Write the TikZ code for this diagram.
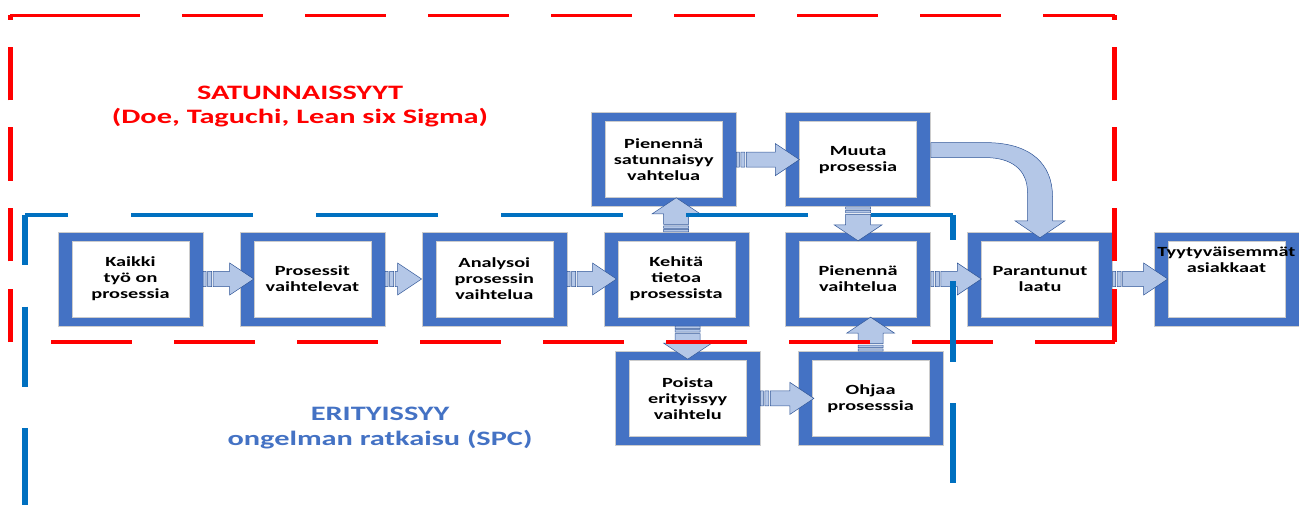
\documentclass[tikz,border=0pt]{standalone}
\usepackage{fontspec}
\newfontfamily\boxfont[FakeStretch=1.45]{Carlito}
\newfontfamily\groupfont[FakeStretch=1.48]{Carlito}
\usetikzlibrary{positioning,calc}

\definecolor{boxblue}{RGB}{68,114,196}
\definecolor{arrowfill}{RGB}{180,199,231}
\definecolor{arrowline}{RGB}{47,85,151}
\definecolor{spcblue}{RGB}{0,112,192}
\definecolor{doered}{RGB}{255,0,0}

% striped block arrow, horizontal: tail, tip
\newcommand{\harrow}[2]{%
  \path[blockarrow] let \p1=(#1), \p2=(#2) in
    (\x1,{\y1-7.5pt}) rectangle ({\x1+3pt},{\y1+7.5pt})
    ({\x1+4.5pt},{\y1-7.5pt}) rectangle ({\x1+8.5pt},{\y1+7.5pt})
    ({\x1+10pt},{\y1-7.5pt}) -- ({\x2-24pt},{\y1-7.5pt}) -- ({\x2-24pt},{\y1-16pt})
    -- (\x2,\y1) -- ({\x2-24pt},{\y1+16pt}) -- ({\x2-24pt},{\y1+7.5pt})
    -- ({\x1+10pt},{\y1+7.5pt}) -- cycle;}
% striped block arrow, vertical: tail, tip
\newcommand{\varrow}[2]{%
  \path[blockarrow] let \p1=(#1), \p2=(#2), \n1={sign(\y2-\y1)} in
    ({\x1-12.5pt},\y1) rectangle ({\x1+12.5pt},{\y1+(\n1)*2.3pt})
    ({\x1-12.5pt},{\y1+(\n1)*3.5pt}) rectangle ({\x1+12.5pt},{\y1+(\n1)*6pt})
    ({\x1-12.5pt},{\y1+(\n1)*7.5pt}) -- ({\x1-12.5pt},{\y2-(\n1)*16pt})
    -- ({\x1-24pt},{\y2-(\n1)*16pt}) -- (\x1,\y2) -- ({\x1+24pt},{\y2-(\n1)*16pt})
    -- ({\x1+12.5pt},{\y2-(\n1)*16pt}) -- ({\x1+12.5pt},{\y1+(\n1)*7.5pt}) -- cycle;}

\begin{document}
\begin{tikzpicture}[x=1pt,y=-1pt,node distance=36.5pt,
    procbox/.style={rectangle,fill=boxblue,draw=black!20,line width=0.4pt,
      minimum width=145pt,minimum height=94pt,inner sep=0pt,align=center,
      font=\boxfont\fontsize{14}{16}\selectfont\bfseries,
      path picture={\fill[white,draw=black!20,line width=0.4pt]
        ([xshift=14pt,yshift=9pt]path picture bounding box.south west) rectangle
        ([xshift=-14pt,yshift=-9pt]path picture bounding box.north east);}},
    blockarrow/.style={fill=arrowfill,draw=arrowline,line width=0.5pt},
    redh/.style={doered,line width=3.5pt,dash pattern=on 81pt off 42pt},
    redv/.style={doered,line width=5pt,dash pattern=on 53.5pt off 27pt},
    blueh/.style={spcblue,line width=4pt,dash pattern=on 122pt off 63pt},
    bluev/.style={spcblue,line width=6pt,dash pattern=on 80pt off 41.5pt},
    grouptext/.style={align=center,font=\groupfont\fontsize{20.5}{24.5}\selectfont\bfseries}]
  \useasboundingbox (0,0) rectangle (1299,505);

  \node[procbox] (kaikki) at (130.5,279) {Kaikki\\työ on\\prosessia};
  \node[procbox,right=of kaikki] (prosessit) {Prosessit\\vaihtelevat};
  \node[procbox,right=of prosessit] (analysoi) {Analysoi\\prosessin\\vaihtelua};
  \node[procbox,right=of analysoi] (kehita) {Kehitä\\tietoa\\prosessista};
  \node[procbox,right=of kehita] (pienvaih) {Pienennä\\vaihtelua};
  \node[procbox,right=of pienvaih] (parantunut) {Parantunut\\laatu};
  \node[procbox,right=41pt of parantunut] (tyyty) {Tyytyväisemmät\\asiakkaat\\[23pt]\mbox{}};
  \node[procbox,above=25pt of kehita,xshift=-12.5pt] (piensat) {Pienennä\\satunnaisyy\\vahtelua};
  \node[procbox,above=25pt of pienvaih] (muuta) {Muuta\\prosessia};
  \node[procbox,below=25pt of kehita,xshift=11.5pt] (poista) {Poista\\erityissyy\\vaihtelu};
  \node[procbox,below=25pt of pienvaih,xshift=12.5pt] (ohjaa) {Ohjaa\\prosesssia};

  \harrow{kaikki.east}{[xshift=14pt]prosessit.west}
  \harrow{prosessit.east}{analysoi.west}
  \harrow{analysoi.east}{[xshift=13pt]kehita.west}
  \harrow{piensat.east}{[xshift=14pt]muuta.west}
  \harrow{pienvaih.east}{[xshift=14pt]parantunut.west}
  \harrow{parantunut.east}{[xshift=14pt]tyyty.west}
  \harrow{poista.east}{[xshift=16pt]ohjaa.west}
  \varrow{kehita.north}{[yshift=9pt]piensat.south}
  \varrow{muuta.south}{[yshift=-9pt]pienvaih.north}
  \varrow{poista.north |- kehita.south}{[yshift=-8pt]poista.north}
  \varrow{ohjaa.north}{[yshift=9pt]pienvaih.south}
  % curved arrow into the quality box
  \path[blockarrow] let \p1=(muuta.east), \p2=(parantunut.north) in
    (\x1,{\y1+17pt}) -- ({\x2-54.5pt},{\y1+17pt})
    .. controls ({\x2-8.5pt},{\y1+17pt}) and ({\x2+12.5pt},{\y1-5pt}) .. ({\x2+12.5pt},{\y1-37pt})
    -- ({\x2+12.5pt},{\y2+11pt}) -- ({\x2+25pt},{\y2+11pt}) -- (\x2,{\y2-6pt})
    -- ({\x2-25pt},{\y2+11pt}) -- ({\x2-12.5pt},{\y2+11pt}) -- ({\x2-12.5pt},{\y1-33pt})
    .. controls ({\x2-12.5pt},{\y1-10pt}) and ({\x2-28.5pt},{\y1+2pt}) .. ({\x2-54.5pt},{\y1+2pt})
    -- (\x1,{\y1+2pt}) -- cycle;

  % common causes frame
  \draw[redh,dash pattern=on 130pt off 42pt on 81pt off 42pt on 81pt off 42pt on 81pt off 42pt
    on 81pt off 42pt on 81pt off 42pt on 81pt off 42pt on 81pt off 42pt on 81pt off 42pt on 81pt off 42pt]
    (10,15.5) -- (1114.5,15.5);
  \draw[redh,dash phase=82pt] (10,342) -- (1114.5,342);
  \draw[redv] (10,342) -- (10,15.5);
  \draw[redv] (1114.5,342) -- (1114.5,15.5);
  % special causes frame
  \draw[blueh,dash phase=40pt] (953,215) -- (24.5,215);
  \draw[blueh,dash pattern=on 116pt off 68pt] (953,506.5) -- (24.5,506.5);
  \draw[bluev,dash phase=30pt] (24.5,215) -- (24.5,507);
  \draw[bluev,dash phase=55pt] (953,215) -- (953,507);

  \node[grouptext,text=doered] (satlabel) at (300,106.5) {SATUNNAISSYYT\\(Doe, Taguchi, Lean six Sigma)};
  \node[grouptext,text=boxblue] (erilabel) at (380,428) {ERITYISSYY\\ongelman ratkaisu (SPC)};
\end{tikzpicture}
\end{document}
